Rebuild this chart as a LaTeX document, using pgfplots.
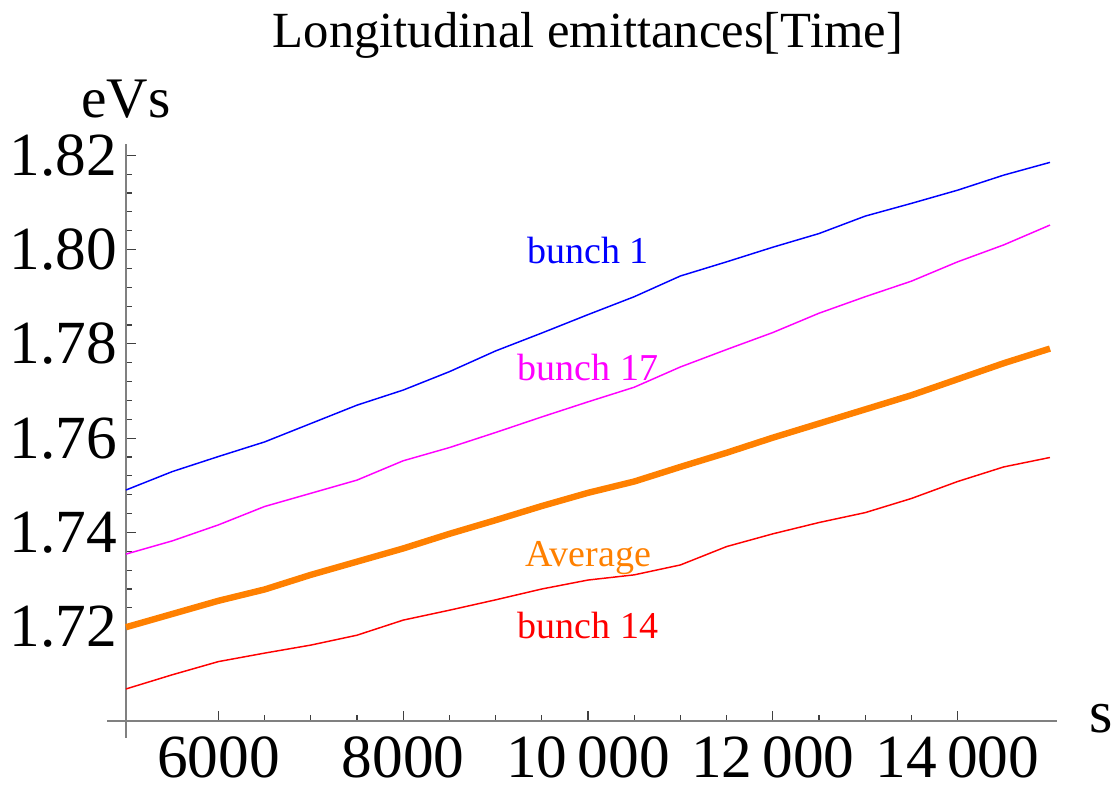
\documentclass[border=0pt]{standalone}
\usepackage{fontspec}
\setmainfont{Liberation Serif}
\usepackage{pgfplots}
\pgfplotsset{compat=1.18}

\definecolor{mmaorange}{rgb}{1,0.5,0}
\definecolor{mmamagenta}{rgb}{1,0,1}
\definecolor{mmablue}{rgb}{0,0,1}
\definecolor{mmared}{rgb}{1,0,0}

% 1 px of the reference = 0.75pt
\begin{document}
\begin{tikzpicture}
\begin{axis}[
    scale only axis,
    width=698.25pt, height=432.75pt,
    xmin=5000, xmax=15076,
    ymin=1.70, ymax=1.8224,
    axis lines=left,
    axis line style={-, draw=black!50, line width=1.1pt},
    tick style={black!75, line width=0.9pt},
    tick align=inside,
    major tick length=7.5pt,
    minor tick length=4.5pt,
    xtick={6000,8000,10000,12000,14000},
    xticklabels={6000,8000,10\,000,12\,000,14\,000},
    minor x tick num=3,
    ytick={1.72,1.74,1.76,1.78,1.80,1.82},
    yticklabels={1.72,1.74,1.76,1.78,1.80,1.82},
    minor y tick num=4,
    /pgf/number format/assume math mode=true,
    ticklabel style={font=\fontsize{46}{46}\selectfont, inner sep=0pt},
    xticklabel style={anchor=base, yshift=-42pt},
    yticklabel style={anchor=east, xshift=-6.75pt},
    clip=false,
]
  \addplot[mmablue, line width=1.1pt] coordinates {
    (5000,1.7490) (5500,1.7529) (6000,1.7561) (6500,1.7592) (7000,1.7631)
    (7500,1.7670) (8000,1.7702) (8500,1.7741) (9000,1.7785) (9500,1.7823)
    (10000,1.7862) (10500,1.7900) (11000,1.7944) (11500,1.7974) (12000,1.8005)
    (12500,1.8034) (13000,1.8071) (13500,1.8098) (14000,1.8126) (14500,1.8158)
    (15000,1.8185)};
  \addplot[mmamagenta, line width=1.1pt] coordinates {
    (5000,1.7354) (5500,1.7382) (6000,1.7416) (6500,1.7455) (7000,1.7483)
    (7500,1.7511) (8000,1.7552) (8500,1.7580) (9000,1.7612) (9500,1.7645)
    (10000,1.7677) (10500,1.7708) (11000,1.7751) (11500,1.7788) (12000,1.7824)
    (12500,1.7865) (13000,1.7900) (13500,1.7933) (14000,1.7974) (14500,1.8010)
    (15000,1.8052)};
  \addplot[mmaorange, line width=4.8pt] coordinates {
    (5000,1.7199) (5500,1.7227) (6000,1.7255) (6500,1.7279) (7000,1.7310)
    (7500,1.7338) (8000,1.7366) (8500,1.7397) (9000,1.7426) (9500,1.7456)
    (10000,1.7484) (10500,1.7508) (11000,1.7539) (11500,1.7569) (12000,1.7601)
    (12500,1.7631) (13000,1.7661) (13500,1.7691) (14000,1.7725) (14500,1.7759)
    (15000,1.7790)};
  \addplot[mmared, line width=1.1pt] coordinates {
    (5000,1.7068) (5500,1.7098) (6000,1.7126) (6500,1.7144) (7000,1.7161)
    (7500,1.7182) (8000,1.7214) (8500,1.7235) (9000,1.7257) (9500,1.7280)
    (10000,1.7299) (10500,1.7310) (11000,1.7331) (11500,1.7370) (12000,1.7397)
    (12500,1.7421) (13000,1.7442) (13500,1.7472) (14000,1.7508) (14500,1.7539)
    (15000,1.7559)};

  \node[mmablue, anchor=base, font=\fontsize{28.5}{30}\selectfont] at (axis cs:10000,1.7971) {bunch 1};
  \node[mmamagenta, anchor=base, font=\fontsize{28.5}{30}\selectfont] at (axis cs:10000,1.7723) {bunch 17};
  \node[mmaorange, anchor=base, font=\fontsize{28.5}{30}\selectfont] at (axis cs:10000,1.7327) {Average};
  \node[mmared, anchor=base, font=\fontsize{28.5}{30}\selectfont] at (axis cs:10000,1.7176) {bunch 14};

  % axes run a little past their crossing point
  \draw[black!50, line width=1.1pt] (axis cs:5000,1.70) -- ([yshift=-12.75pt]axis cs:5000,1.70);
  \draw[black!50, line width=1.1pt] (axis cs:5000,1.70) -- ([xshift=-14pt]axis cs:5000,1.70);

  \node[anchor=base, font=\fontsize{38}{40}\selectfont] at ([yshift=72pt]rel axis cs:0.496,1) {Longitudinal emittances[Time]};
  \node[anchor=base, font=\fontsize{43}{44}\selectfont] at ([yshift=19.5pt]rel axis cs:0,1) {eVs};
  \node[anchor=base, font=\fontsize{45}{46}\selectfont] at ([xshift=33pt,yshift=-9pt]rel axis cs:1,0) {s};

  \coordinate (sw) at (rel axis cs:0,0);
  \coordinate (ne) at (rel axis cs:1,1);
\end{axis}
\pgfresetboundingbox
\path[use as bounding box] ([xshift=-94.5pt,yshift=-52.5pt]sw) rectangle ([xshift=44.25pt,yshift=108pt]ne);
\end{tikzpicture}
\end{document}
